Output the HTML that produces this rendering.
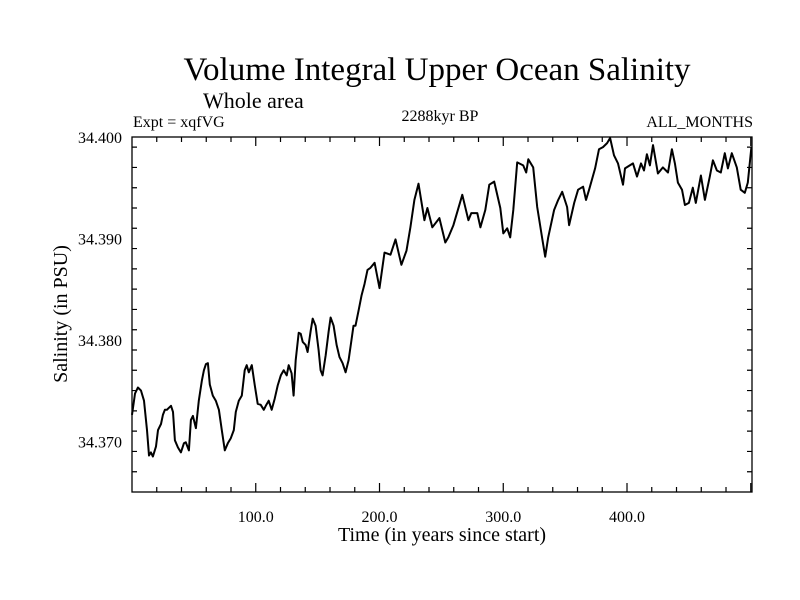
<!DOCTYPE html>
<html><head><meta charset="utf-8"><style>
body{margin:0;background:#fff}
svg{display:block;font-family:"Liberation Serif",serif}
</style></head><body>
<svg width="800" height="600" xmlns="http://www.w3.org/2000/svg">
<text x="437" y="80" font-size="33" text-anchor="middle">Volume Integral Upper Ocean Salinity</text>
<text x="203" y="108" font-size="22">Whole area</text>
<text x="133" y="127" font-size="16">Expt = xqfVG</text>
<text x="440" y="121" font-size="16" text-anchor="middle">2288kyr BP</text>
<text x="753" y="127" font-size="16" text-anchor="end">ALL_MONTHS</text>
<text x="442" y="541" font-size="20" text-anchor="middle">Time (in years since start)</text>
<text transform="translate(67,314) rotate(-90)" font-size="20" text-anchor="middle">Salinity (in PSU)</text>
<g id="axes"></g>
<path id="series" fill="none" stroke="#000" stroke-width="2" stroke-linejoin="round"/>
</svg>
<script>
const years=[0,2.4,4.8,7.3,9.7,12.1,13.7,15.3,16.9,19.4,21.0,23.4,25.0,26.6,28.2,29.8,31.5,33.1,34.7,37.1,39.5,41.9,43.5,46.0,47.6,49.2,51.6,54.0,56.5,58.1,59.7,61.3,62.9,65.3,67.7,70.2,72.6,75.0,77.4,79.8,82.3,83.9,86.3,88.7,91.1,92.7,94.4,96.8,99.2,101.6,104.0,106.5,108.1,110.5,112.9,115.3,117.7,120.2,122.6,125.0,126.6,129.0,130.6,132.3,134.7,136.3,137.9,140.3,141.9,144.4,146.0,148.4,150.8,152.4,154.0,156.5,158.9,160.5,162.9,165.3,167.7,170.2,172.6,175.0,177.4,179.0,180.6,183.1,185.5,187.9,190.3,192.7,196.0,200.0,204.0,208.9,212.9,217.7,221.8,225.0,228.2,231.5,236.3,238.7,242.7,248.4,253.2,255.6,259.7,266.9,271.8,274.2,279.0,281.5,285.5,288.7,292.7,297.6,300.0,303.2,305.6,308.1,311.3,316.1,318.5,320.2,324.2,327.4,331.5,333.9,336.3,341.1,344.4,347.6,351.6,353.2,357.3,360.5,364.5,366.9,369.4,374.2,377.4,380.6,383.9,386.3,389.5,392.7,396.8,398.4,404.8,408.1,411.3,413.7,416.1,418.5,421.0,425.0,429.0,433.1,436.3,438.7,441.1,444.4,446.8,450.0,453.2,455.6,459.7,462.9,466.9,469.4,472.6,475.8,479.0,481.5,484.7,488.7,491.9,495.2,497.6,500.5];
const salinity=[34.3726,34.3747,34.3753,34.3750,34.3740,34.3711,34.3686,34.3689,34.3685,34.3695,34.3711,34.3717,34.3726,34.3731,34.3731,34.3733,34.3735,34.3729,34.3701,34.3694,34.3689,34.3698,34.3699,34.3691,34.3721,34.3725,34.3713,34.3740,34.3760,34.3770,34.3776,34.3777,34.3756,34.3745,34.3740,34.3731,34.3711,34.3691,34.3698,34.3703,34.3711,34.3729,34.3740,34.3745,34.3770,34.3775,34.3768,34.3775,34.3755,34.3737,34.3736,34.3731,34.3735,34.3740,34.3731,34.3742,34.3755,34.3765,34.3770,34.3765,34.3775,34.3767,34.3745,34.3780,34.3807,34.3806,34.3798,34.3795,34.3788,34.3809,34.3821,34.3814,34.3790,34.3770,34.3765,34.3785,34.3808,34.3822,34.3814,34.3795,34.3783,34.3777,34.3768,34.3780,34.3800,34.3814,34.3814,34.3829,34.3844,34.3855,34.3869,34.3871,34.3876,34.3851,34.3886,34.3884,34.3899,34.3874,34.3888,34.3911,34.3938,34.3954,34.3918,34.3930,34.3911,34.3920,34.3896,34.3901,34.3913,34.3943,34.3918,34.3925,34.3925,34.3911,34.3928,34.3953,34.3956,34.3930,34.3905,34.3910,34.3901,34.3928,34.3975,34.3972,34.3965,34.3978,34.3970,34.3931,34.3900,34.3882,34.3901,34.3928,34.3938,34.3946,34.3931,34.3913,34.3935,34.3948,34.3951,34.3938,34.3948,34.3969,34.3988,34.3990,34.3994,34.3999,34.3982,34.3974,34.3953,34.3969,34.3974,34.3961,34.3974,34.3967,34.3983,34.3972,34.3992,34.3964,34.3970,34.3965,34.3988,34.3974,34.3955,34.3948,34.3933,34.3935,34.3950,34.3935,34.3962,34.3938,34.3961,34.3977,34.3967,34.3965,34.3984,34.3969,34.3984,34.3970,34.3948,34.3945,34.3955,34.3990];
const xTickVals=[100,200,300,400];
const xTickLabels=["100.0","200.0","300.0","400.0"];
const yTickVals=[34.37,34.38,34.39,34.40];
const yTickLabels=["34.370","34.380","34.390","34.400"];

const L=132,R=752,T=137,B=492,XMIN=0,XMAX=501,YMIN=34.365,YMAX=34.400;
const sx=v=>L+(v-XMIN)/(XMAX-XMIN)*(R-L);
const sy=v=>B-(v-YMIN)/(YMAX-YMIN)*(B-T);
const NS="http://www.w3.org/2000/svg";
const g=document.getElementById('axes');
function mk(tag,attrs){const e=document.createElementNS(NS,tag);for(const k in attrs)e.setAttribute(k,attrs[k]);g.appendChild(e);return e;}
const frame=mk('rect',{x:L,y:T,width:R-L,height:B-T,fill:'none',stroke:'#000','stroke-width':1.3});


let d='';
for(let v=20;v<XMAX;v+=20){const x=sx(v);const len=(v%100===0)?9:5;d+=`M${x},${B}v${-len}M${x},${T}v${len}`;}
for(let i=1;i<18;i++){const v=YMIN+i*0.002;const y=sy(v);const len=(Math.abs((v*1000)%10)<0.01||Math.abs((v*1000)%10-10)<0.01)?9:5;d+=`M${L},${y}h${len}M${R},${y}h${-len}`;}
const ticks=mk('path',{d:d,stroke:'#000','stroke-width':1.2,fill:'none'});


xTickVals.forEach((v,i)=>{const t=mk('text',{x:sx(v),y:B+30,'font-size':16,'text-anchor':'middle'});t.textContent=xTickLabels[i];

});
yTickVals.forEach((v,i)=>{const t=mk('text',{x:L-10,y:sy(v)+6,'font-size':16,'text-anchor':'end'});t.textContent=yTickLabels[i];

});
document.getElementById('series').setAttribute('d',years.map((y,i)=>(i?'L':'M')+sx(y).toFixed(1)+','+sy(salinity[i]).toFixed(1)).join(''));
</script>
</body></html>
